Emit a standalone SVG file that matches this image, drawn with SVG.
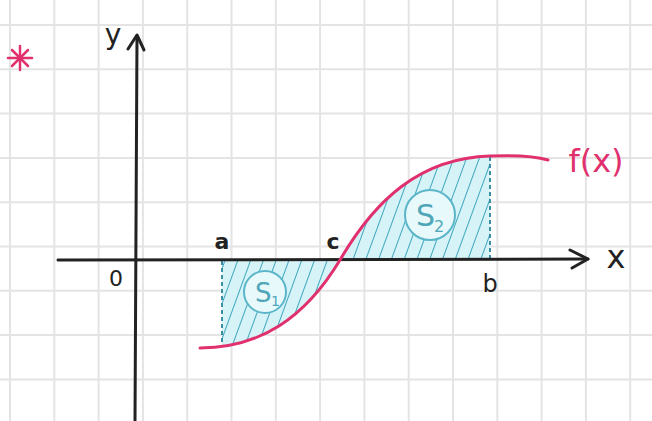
<svg xmlns="http://www.w3.org/2000/svg" width="652" height="421" viewBox="0 0 652 421">
<defs>
<style>
.grid{stroke:#e4e4e4;stroke-width:2}
.axis{stroke:#222;stroke-width:3;fill:none;stroke-linecap:round;stroke-linejoin:round}
.curve{stroke:#e0306e;stroke-width:3;fill:none;stroke-linecap:round}
.lbl{font-family:"DejaVu Sans",sans-serif;fill:#222}
.pink{font-family:"DejaVu Sans",sans-serif;fill:#e0306e}
.teal{font-family:"DejaVu Sans",sans-serif;fill:#4fa6b8}
.dash{stroke:#3b8ea3;stroke-width:2;stroke-dasharray:4 3}
.bubble{fill:#e8f9fb;stroke:#5ab5c8;stroke-width:2}
</style>
<pattern id="hatch" patternUnits="userSpaceOnUse" width="12" height="12" patternTransform="rotate(20)">
<rect width="12" height="12" fill="#d6f4f8"/>
<line x1="0" y1="0" x2="0" y2="12" stroke="#3fa6bd" stroke-width="2"/>
</pattern>
<clipPath id="s1clip"><rect x="222" y="255" width="118" height="100"/></clipPath>
</defs>
<g id="grid">
<line class="grid" x1="10" y1="0" x2="10" y2="421"/>
<line class="grid" x1="54.3" y1="0" x2="54.3" y2="421"/>
<line class="grid" x1="98.6" y1="0" x2="98.6" y2="421"/>
<line class="grid" x1="142.9" y1="0" x2="142.9" y2="421"/>
<line class="grid" x1="187.2" y1="0" x2="187.2" y2="421"/>
<line class="grid" x1="231.5" y1="0" x2="231.5" y2="421"/>
<line class="grid" x1="275.8" y1="0" x2="275.8" y2="421"/>
<line class="grid" x1="320.1" y1="0" x2="320.1" y2="421"/>
<line class="grid" x1="364.4" y1="0" x2="364.4" y2="421"/>
<line class="grid" x1="408.7" y1="0" x2="408.7" y2="421"/>
<line class="grid" x1="453" y1="0" x2="453" y2="421"/>
<line class="grid" x1="497.3" y1="0" x2="497.3" y2="421"/>
<line class="grid" x1="541.6" y1="0" x2="541.6" y2="421"/>
<line class="grid" x1="585.9" y1="0" x2="585.9" y2="421"/>
<line class="grid" x1="630.2" y1="0" x2="630.2" y2="421"/>
<line class="grid" x1="0" y1="25" x2="652" y2="25"/>
<line class="grid" x1="0" y1="69.3" x2="652" y2="69.3"/>
<line class="grid" x1="0" y1="113.6" x2="652" y2="113.6"/>
<line class="grid" x1="0" y1="157.9" x2="652" y2="157.9"/>
<line class="grid" x1="0" y1="202.2" x2="652" y2="202.2"/>
<line class="grid" x1="0" y1="246.5" x2="652" y2="246.5"/>
<line class="grid" x1="0" y1="290.8" x2="652" y2="290.8"/>
<line class="grid" x1="0" y1="335.1" x2="652" y2="335.1"/>
<line class="grid" x1="0" y1="379.4" x2="652" y2="379.4"/>
</g>
<g id="regions">
<path id="S1" d="M200,348 C260,348 305,318 340,260 L200,260 Z" fill="url(#hatch)" clip-path="url(#s1clip)"/>
<path id="S2" d="M340,260 C375,200 420,158 490,156 L490,260 Z" fill="url(#hatch)"/>
<line class="dash" x1="222" y1="261" x2="222" y2="347"/>
<line class="dash" x1="490" y1="157" x2="490" y2="259"/>
</g>
<g id="bubbles">
<g id="s1-label">
<circle class="bubble" cx="265" cy="292" r="21"/>
<text class="teal" x="255" y="302" font-size="26">S</text>
<text class="teal" x="271" y="306" font-size="14">1</text>
</g>
<g id="s2-label">
<circle class="bubble" cx="430" cy="215" r="25"/>
<text class="teal" x="416" y="226" font-size="30">S</text>
<text class="teal" x="434" y="232" font-size="16">2</text>
</g>
</g>
<g id="axes">
<path class="axis" d="M58,260 L588,259"/>
<path class="axis" d="M570,250 L588,259 L572,268"/>
<path class="axis" d="M135,421 L137,36"/>
<path class="axis" d="M128,49 L137,35 L144,50"/>
</g>
<g id="function">
<path class="curve" d="M200,348 C260,348 305,318 340,260 C375,200 420,158 490,156 C515,155 535,156 548,160"/>
</g>
<g id="labels">
<text class="lbl" x="113" y="44" font-size="28" text-anchor="middle">y</text>
<text class="lbl" x="116" y="286" font-size="22" text-anchor="middle">0</text>
<text class="lbl" x="222" y="249" font-size="22" font-weight="bold" text-anchor="middle">a</text>
<text class="lbl" x="333" y="249" font-size="22" font-weight="bold" text-anchor="middle">c</text>
<text class="lbl" x="490" y="292" font-size="24" text-anchor="middle">b</text>
<text class="lbl" x="616" y="268" font-size="32" text-anchor="middle">x</text>
<text class="pink" x="596" y="172" font-size="32" text-anchor="middle">f(x)</text>
<g id="asterisk" stroke="#e0306e" stroke-width="2.5" stroke-linecap="round">
<line x1="8" y1="58" x2="32" y2="58"/>
<line x1="20" y1="46" x2="20" y2="70"/>
<line x1="12" y1="50" x2="28" y2="66"/>
<line x1="12" y1="66" x2="28" y2="50"/>
</g>
</g>
</svg>
